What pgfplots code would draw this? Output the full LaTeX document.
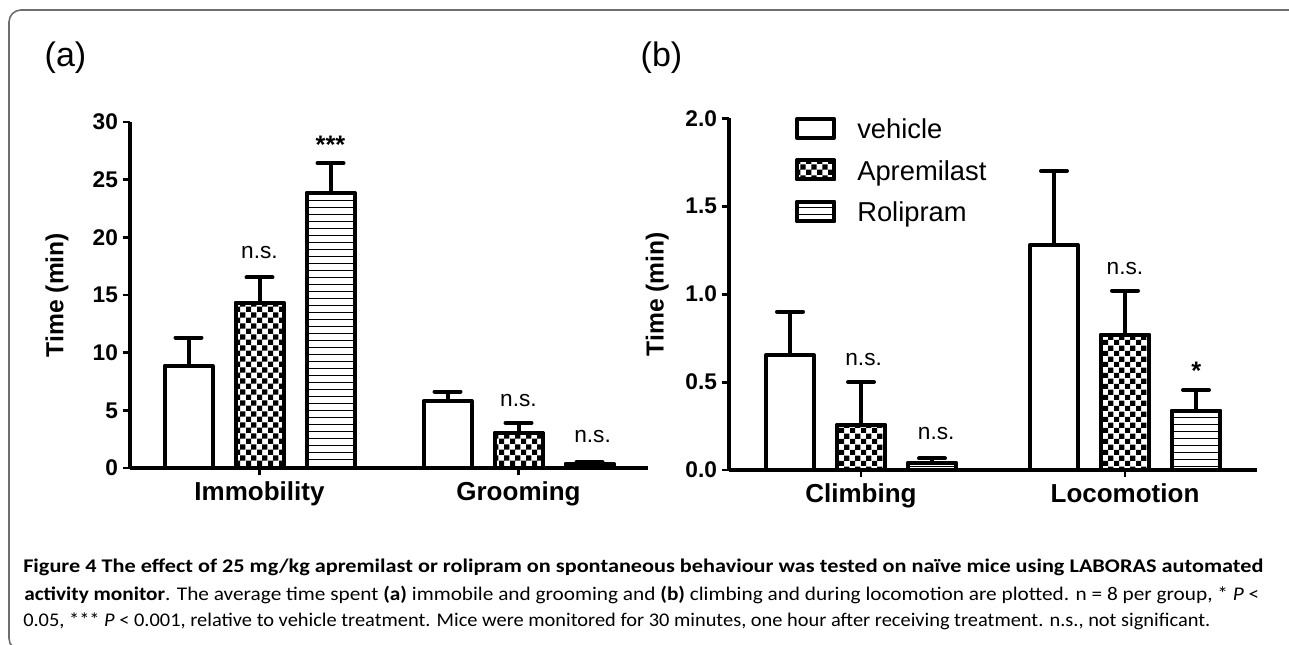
\documentclass[border=0pt]{standalone}
\usepackage{fontspec}
\setmainfont{Liberation Sans}
\newfontfamily\capfont{Carlito}
\usepackage{graphicx}
\usepackage{pgfplots}
\pgfplotsset{compat=1.18}
\usetikzlibrary{patterns}
\definecolor{framegray}{RGB}{110,110,110}

\pgfdeclarepatternformonly{checker}{\pgfpointorigin}{\pgfpoint{8.4pt}{8.4pt}}{\pgfpoint{8.4pt}{8.4pt}}{%
  \pgfpathrectangle{\pgfpointorigin}{\pgfpoint{4.2pt}{4.2pt}}%
  \pgfpathrectangle{\pgfpoint{4.2pt}{4.2pt}}{\pgfpoint{4.2pt}{4.2pt}}%
  \pgfusepath{fill}}
\pgfdeclarepatternformonly{hstripes}{\pgfpoint{-1pt}{0pt}}{\pgfpoint{10pt}{5.25pt}}{\pgfpoint{9pt}{5.25pt}}{%
  \pgfsetlinewidth{1.1pt}%
  \pgfpathmoveto{\pgfpoint{-1pt}{2.6pt}}\pgfpathlineto{\pgfpoint{10pt}{2.6pt}}%
  \pgfusepath{stroke}}

\tikzset{
  ann/.style={anchor=base, font=\fontsize{17}{17}\selectfont},
  annstar/.style={anchor=base, font=\bfseries\fontsize{19}{19}\selectfont},
}

\pgfplotsset{
  panel/.style={
    scale only axis, anchor=south west, clip=false,
    xmin=0.5, xmax=2.5, ymin=0,
    axis x line=bottom, axis y line=left,
    axis line style={-, line width=2.5pt},
    tick align=outside, major tick length=5.5pt,
    tick style={line width=2.2pt, black},
    xtick={1,2},
    ybar, bar width=36pt,
    ticklabel style={font=\bfseries\fontsize{17}{17}\selectfont},
    xticklabel style={font=\bfseries\fontsize{19.5}{19.5}\selectfont, yshift=-1pt},
    ylabel style={font=\bfseries\fontsize{18.5}{18.5}\selectfont, anchor=center},
    legend image code/.code={%
      \draw[##1, line width=3pt, line join=round] (0pt,0.4pt) rectangle (27.75pt,14.65pt);
      \path (43.5pt,0pt);},
  },
  errs/.style={error bars/.cd, y dir=plus, y explicit,
    error bar style={line width=3pt, black, solid},
    error mark options={rotate=90, line width=3pt, mark size=9.75pt, black, line cap=round}},
  veh/.style={bar shift=-53.25pt, draw=black, fill=white, line width=3pt, line join=round, errs},
  apr/.style={bar shift=0pt, draw=black, fill=white, postaction={pattern=checker}, line width=3pt, line join=round, errs},
  rol/.style={bar shift=53.25pt, draw=black, fill=white, postaction={pattern=hstripes}, line width=3pt, line join=round, errs},
}

\begin{document}
\begin{tikzpicture}
\useasboundingbox (0,0) rectangle (966.75pt,483.75pt);
\draw[line width=1.2pt, framegray, rounded corners=9pt] (6.75pt,-4pt) rectangle (976pt,476.25pt);

\node[anchor=west, font=\fontsize{25.5}{25.5}\selectfont] at (30pt,440.25pt) {(a)};
\node[anchor=west, font=\fontsize{25.5}{25.5}\selectfont] at (477pt,440.25pt) {(b)};

% Panel (a)
\begin{axis}[panel,
  at={(97.5pt,132.75pt)}, width=388.5pt, height=259.5pt,
  ymax=30, ytick={0,5,10,15,20,25,30}, yticklabels={0,5,10,15,20,25,30},
  xticklabels={Immobility,Grooming},
  ylabel={Time (min)}, ylabel style={at={(axis description cs:-0.141,0.5)}},
]
\addplot+[veh] coordinates {(1,8.87) +- (0,2.43) (2,5.81) +- (0,0.81)};
\addplot+[apr] coordinates {(1,14.33) +- (0,2.2) (2,3.01) +- (0,0.9)};
\addplot+[rol] coordinates {(1,23.82) +- (0,2.6) (2,0.35) +- (0,0.17)};
\node[ann] at (axis cs:1,18.2) {n.s.};
\node[annstar] at (axis cs:1.274,27.3) {***};
\node[ann] at (axis cs:2,5.29) {n.s.};
\node[ann] at (axis cs:2.286,2.25) {n.s.};
\end{axis}

% Panel (b)
\begin{axis}[panel,
  at={(546.75pt,131.25pt)}, width=396pt, height=263.8pt,
  ymax=2, ytick={0,0.5,1,1.5,2}, yticklabels={0.0,0.5,1.0,1.5,2.0},
  xticklabels={Climbing,Locomotion},
  ylabel={Time (min)}, ylabel style={at={(axis description cs:-0.136,0.5)}},
  legend style={at={(axis description cs:0.125,1.0045)}, anchor=north west,
    draw=none, fill=none, inner sep=0pt, row sep=10.5pt,
    font=\fontsize{20.5}{24}\selectfont,
    nodes={inner sep=0pt, text height=15pt, text depth=4.5pt, anchor=base west}},
  legend cell align=left,
]
\addplot+[veh] coordinates {(1,0.654) +- (0,0.246) (2,1.28) +- (0,0.42)};
\addlegendentry{vehicle}
\addplot+[apr] coordinates {(1,0.256) +- (0,0.244) (2,0.768) +- (0,0.252)};
\addlegendentry{Apremilast}
\addplot+[rol] coordinates {(1,0.038) +- (0,0.028) (2,0.337) +- (0,0.118)};
\addlegendentry{Rolipram}
\node[ann] at (axis cs:1.01,0.597) {n.s.};
\node[ann] at (axis cs:1.285,0.171) {n.s.};
\node[ann] at (axis cs:2,1.109) {n.s.};
\node[annstar] at (axis cs:2.27,0.512) {*};
\end{axis}

% Caption
\node[anchor=base west, inner sep=0pt, font=\capfont\fontsize{14.5}{18}\selectfont] at (17.25pt,54.4pt)
  {\resizebox{930pt}{\height}{\bfseries Figure 4 The effect of 25 mg/kg apremilast or rolipram on spontaneous behaviour was tested on naïve mice using LABORAS automated}};
\node[anchor=base west, inner sep=0pt, font=\capfont\fontsize{14.5}{18}\selectfont] at (18pt,33.4pt)
  {\resizebox{926.25pt}{\height}{{\bfseries activity monitor}. The average time spent {\bfseries (a)} immobile and grooming and {\bfseries (b)} climbing and during locomotion are plotted. n = 8 per group, * \textit{P} <}};
\node[anchor=base west, inner sep=0pt, font=\capfont\fontsize{14.5}{18}\selectfont] at (17.25pt,14pt)
  {\resizebox{890.25pt}{\height}{0.05, *** \textit{P} < 0.001, relative to vehicle treatment. Mice were monitored for 30 minutes, one hour after receiving treatment. n.s., not significant.}};
\end{tikzpicture}
\end{document}
